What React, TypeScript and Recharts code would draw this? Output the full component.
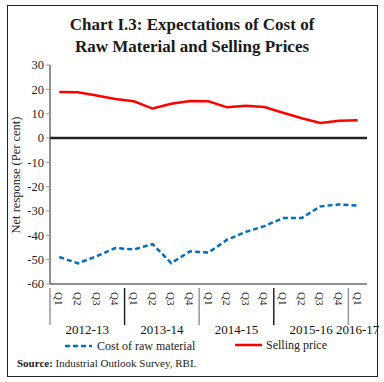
import React from "react";
import { LineChart, Line, XAxis, YAxis, ReferenceLine } from "recharts";

// Quarterly survey rounds, 2012-13 Q1 to 2016-17 Q1
const quarters = ["Q1", "Q2", "Q3", "Q4", "Q1", "Q2", "Q3", "Q4", "Q1", "Q2", "Q3", "Q4", "Q1", "Q2", "Q3", "Q4", "Q1"];
const years = ["2012-13", "2013-14", "2014-15", "2015-16", "2016-17"];
const rawMaterial = [-48.9, -51.5, -48.6, -45.2, -45.8, -43.6, -51.4, -46.6, -47.1, -41.8, -38.6, -36.2, -32.9, -32.9, -28.1, -27.3, -27.8];
const sellingPrice = [18.9, 18.8, 17.5, 16.0, 15.1, 12.1, 14.1, 15.2, 15.1, 12.6, 13.3, 12.7, 10.4, 8.1, 6.2, 7.1, 7.3];
const yTicks = [30, 20, 10, 0, -10, -20, -30, -40, -50, -60];

const data = quarters.map((q, i) => ({
  id: i,
  q,
  raw: rawMaterial[i],
  sell: sellingPrice[i],
}));

const FONT = "'Liberation Serif', 'DejaVu Serif', serif";

function QuarterTick(props: any) {
  const { x, y, payload } = props;
  const i = payload.index;
  const half = payload.offset || 9.3;
  const bw = half * 2;
  const groupStart = i % 4 === 0;
  const yearIdx = Math.floor(i / 4);
  const groupSize = Math.min(4, quarters.length - i);
  return (
    <g>
      <text
        transform={`translate(${x},${y}) rotate(90)`}
        textAnchor="start"
        dominantBaseline="central"
        fontSize={11}
        fontFamily={FONT}
        fill="#222"
      >
        {quarters[i]}
      </text>
      {groupStart && (
        <line x1={x - half} x2={x - half} y1={y - 4} y2={y + 33} stroke={yearIdx % 2 ? "#222" : "#999"} strokeWidth={1.5} />
      )}
      {groupStart && (
        <text
          x={x - half + (groupSize * bw) / 2}
          y={y + 42}
          textAnchor="middle"
          fontSize={13}
          fontFamily={FONT}
          fill="#111"
        >
          {years[yearIdx]}
        </text>
      )}
    </g>
  );
}

export default function App() {
  return (
    <div style={{ position: "absolute", left: 0, top: 0, width: 384, height: 382, background: "#fff", fontFamily: FONT }}>
      {/* outer frame */}
      <div style={{ position: "absolute", left: 7, top: 5, width: 369, height: 370, border: "1.5px solid #222" }} />

      <div style={{ position: "absolute", left: 0, top: 14, width: 384, textAlign: "center", fontWeight: "bold", fontSize: 17, lineHeight: "22px", color: "#1a1a1a" }}>
        Chart I.3: Expectations of Cost of
        <br />
        Raw Material and Selling Prices
      </div>

      <div
        style={{
          position: "absolute",
          left: 16,
          top: 175,
          transform: "translate(-50%, -50%) rotate(-90deg)",
          whiteSpace: "nowrap",
          fontSize: 12.5,
          color: "#222",
        }}
      >
        Net response (Per cent)
      </div>

      <div style={{ position: "absolute", left: 0, top: 0 }}>
        <LineChart width={384} height={382} data={data} margin={{ top: 65, right: 17, bottom: 58, left: 10 }}>
          <XAxis
            dataKey="id"
            type="category"
            scale="band"
            interval={0}
            height={40}
            tickLine={false}
            axisLine={{ stroke: "#222", strokeWidth: 1 }}
            tick={<QuarterTick />}
          />
          <YAxis
            width={40}
            domain={[-60, 30]}
            ticks={yTicks}
            interval={0}
            tickSize={4}
            tickLine={{ stroke: "#999" }}
            axisLine={{ stroke: "#222", strokeWidth: 1 }}
            tick={{ fontSize: 12.5, fontFamily: FONT, fill: "#222" }}
          />
          <ReferenceLine y={0} stroke="#222" strokeWidth={2.5} />
          <Line dataKey="sell" stroke="#ff0000" strokeWidth={2.5} dot={false} isAnimationActive={false} />
          <Line dataKey="raw" stroke="#0070c0" strokeWidth={2.5} strokeDasharray="5 3" dot={false} isAnimationActive={false} />
        </LineChart>
      </div>

      {/* legend */}
      <svg style={{ position: "absolute", left: 0, top: 338 }} width={384} height={16}>
        <line x1={65} x2={92} y1={8} y2={8} stroke="#0070c0" strokeWidth={2.5} strokeDasharray="5 3" />
        <text x={97} y={12} fontSize={12} fontFamily={FONT} fill="#222">Cost of raw material</text>
        <line x1={235} x2={262} y1={7} y2={7} stroke="#ff0000" strokeWidth={2.5} />
        <text x={266} y={11} fontSize={12} fontFamily={FONT} fill="#222">Selling price</text>
      </svg>

      <div style={{ position: "absolute", left: 17, top: 357, fontSize: 11, color: "#222", whiteSpace: "nowrap" }}>
        <b>Source:</b> Industrial Outlook Survey, RBI.
      </div>
    </div>
  );
}
